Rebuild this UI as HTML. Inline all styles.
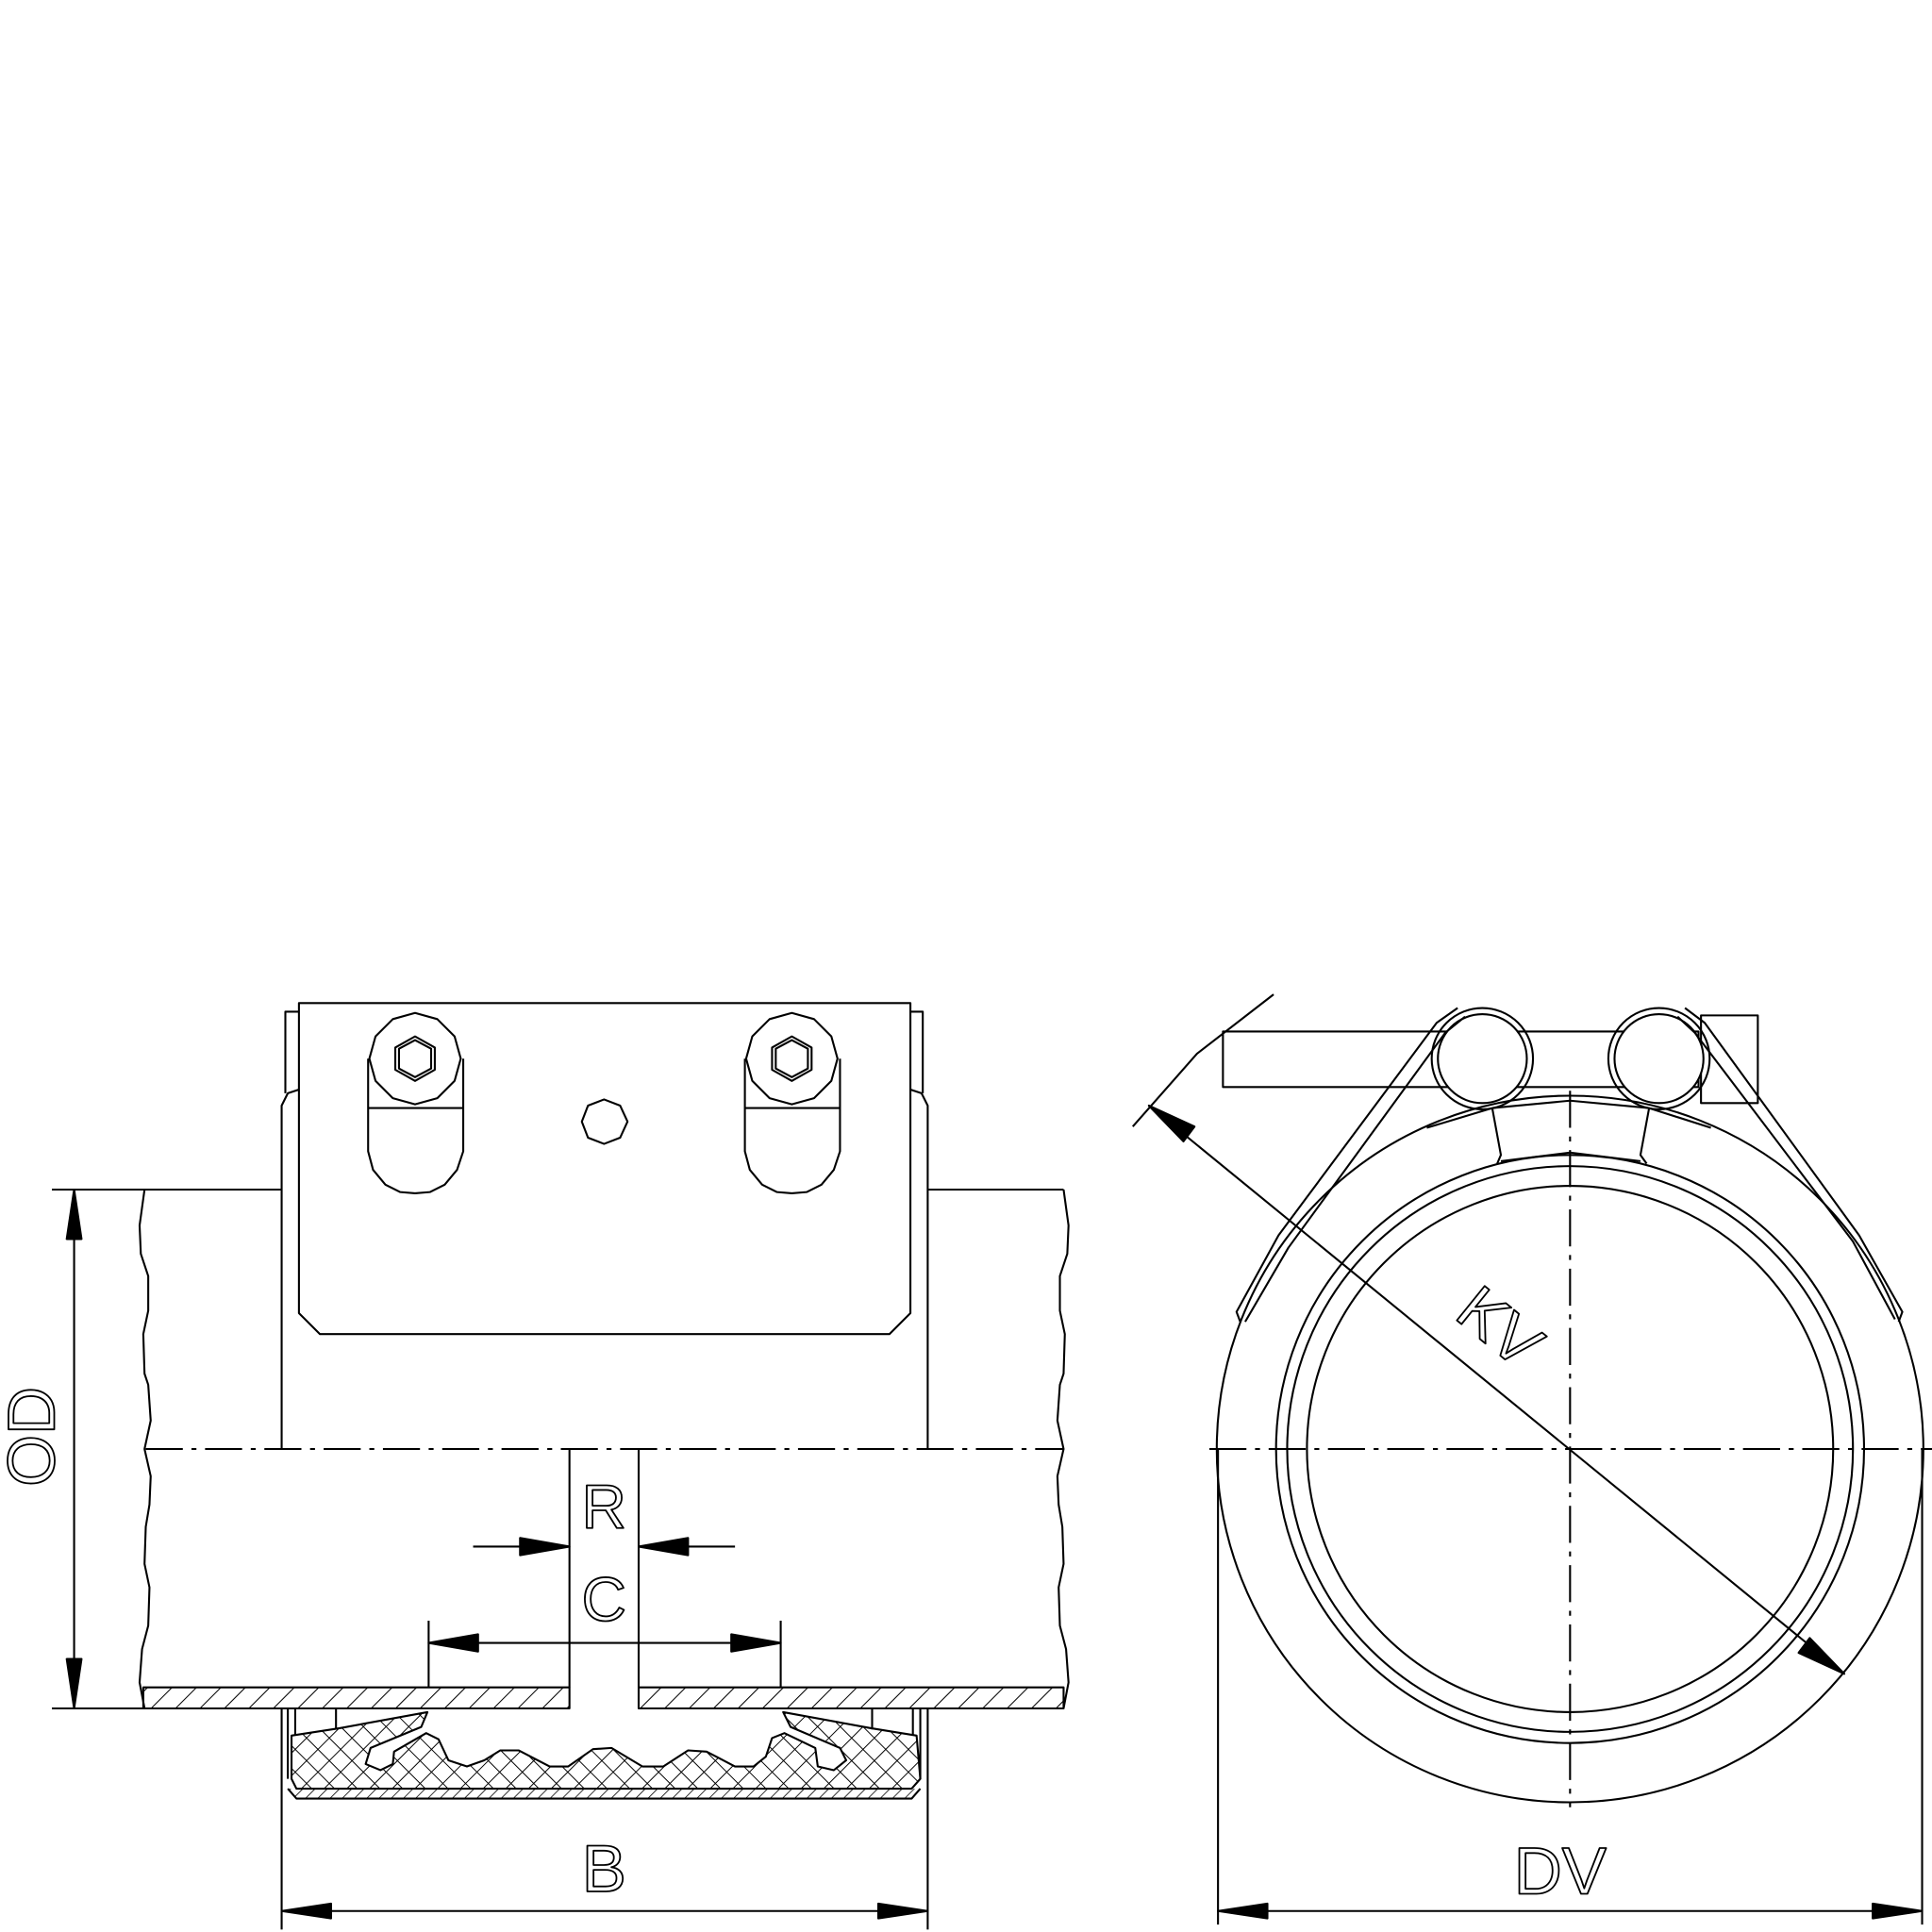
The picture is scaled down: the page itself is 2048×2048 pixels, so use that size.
<!DOCTYPE html>
<html><head><meta charset="utf-8"><style>html,body{margin:0;padding:0;background:#fff}svg{display:block}</style></head><body>
<svg width="2048" height="2048" viewBox="0 0 1564 1564" xmlns="http://www.w3.org/2000/svg" fill="none" stroke="#000" stroke-width="1.6" stroke-linejoin="round">
<defs>
<pattern id="h" width="14" height="14" patternUnits="userSpaceOnUse" patternTransform="rotate(45)"><line x1="0" y1="0" x2="0" y2="14" stroke="#000" stroke-width="1.6"/></pattern>
<pattern id="x" width="13" height="13" patternUnits="userSpaceOnUse" patternTransform="rotate(45)"><line x1="0" y1="0" x2="0" y2="13" stroke="#000" stroke-width="1.5"/><line x1="0" y1="0" x2="13" y2="0" stroke="#000" stroke-width="1.5"/></pattern>
<pattern id="h2" width="7" height="7" patternUnits="userSpaceOnUse" patternTransform="rotate(45)"><line x1="0" y1="0" x2="0" y2="7" stroke="#000" stroke-width="1.2"/></pattern>
</defs>
<g font-family="Liberation Sans, sans-serif" text-anchor="middle" fill="none" stroke="#000" stroke-width="1.4">
<text x="489" y="1531" font-size="54">B</text>
<text transform="translate(44,1163) rotate(-90)" font-size="54">OD</text>
<text x="489" y="1237" font-size="50">R</text>
<text x="489" y="1312" font-size="50">C</text>
<text x="1263" y="1533" font-size="54">DV</text>
</g>
<line x1="42" y1="963" x2="228" y2="963"/><line x1="751" y1="963" x2="861" y2="963"/>
<line x1="42" y1="1383" x2="228" y2="1383"/><line x1="751" y1="1383" x2="861" y2="1383"/>
<polyline points="117,963 113,992 114,1015 120,1033 120,1061 116,1080 117,1112 120,1121 122,1150 117,1173 122,1195 121,1218 118,1236 117,1266 121,1285 120,1316 115,1335 113,1362 117,1383"/>
<polyline points="861,963 865,992 864,1015 858,1033 858,1061 862,1080 861,1112 858,1121 856,1150 861,1173 856,1195 857,1218 860,1236 861,1266 857,1285 858,1316 863,1335 865,1362 861,1383"/>
<rect x="116" y="1366" width="345" height="17" fill="url(#h)"/>
<rect x="517" y="1366" width="344" height="17" fill="url(#h)"/>
<line x1="461" y1="1173" x2="461" y2="1366"/><line x1="517" y1="1173" x2="517" y2="1366"/>
<line x1="118" y1="1173" x2="861" y2="1173" stroke-dasharray="30,7,4,7"/>
<path d="M228,1173 V895 L233,885 L242,882"/><path d="M751,1173 V895 L746,885 L737,882"/>
<path d="M242,819 H231 V885"/><path d="M737,819 H747 V885"/>
<polygon points="242,812 737,812 737,1063 720,1080 259,1080 242,1063" fill="#fff"/>
<g id="bolt">
<polygon points="336,820 354,825 368,839 373,857 368,875 354,889 336,894 318,889 304,875 299,857 304,839 318,825"/>
<polygon points="336,839 352,848 352,866 336,875 320,866 320,848"/>
<polygon points="336,842 349,849 349,865 336,872 323,865 323,849"/>
<path d="M298,857 V932 L302,947 L312,959 L324,965 L336,966 L348,965 L360,959 L370,947 L375,932 V857"/>
<line x1="298" y1="897" x2="375" y2="897"/>
</g>
<use href="#bolt" x="305"/>
<polygon points="489,890 502,895 508,908 502,921 489,926 476,921 471,908 476,895"/>
<line x1="233" y1="1383" x2="233" y2="1440"/><line x1="239" y1="1383" x2="239" y2="1405"/>
<line x1="745" y1="1383" x2="745" y2="1440"/><line x1="739" y1="1383" x2="739" y2="1405"/>
<line x1="272" y1="1383" x2="272" y2="1400"/><line x1="706" y1="1383" x2="706" y2="1400"/>
<path d="M233,1448 L240,1456 H738 L745,1448" fill="url(#h2)"/>
<path d="M236,1405 L275,1399 L346,1386 L341,1398 L300,1415 L296,1428 L308,1433 L318,1428 L319,1418 L345,1403 L355,1408 L363,1425 L378,1430 L392,1425 L405,1417 L420,1417 L445,1430 L460,1430 L480,1416 L495,1415 L520,1430 L537,1430 L557,1417 L572,1418 L595,1430 L610,1430 L620,1422 L625,1407 L635,1403 L660,1415 L662,1430 L675,1433 L685,1425 L680,1415 L640,1398 L634,1386 L705,1399 L742,1405 L745,1440 L738,1448 L240,1448 L236,1440 Z" fill="url(#x)"/>
<line x1="228" y1="1383" x2="228" y2="1562"/><line x1="751" y1="1383" x2="751" y2="1562"/>
<line x1="228" y1="1547" x2="751" y2="1547"/>
<polygon points="228,1547 268,1541 268,1553" fill="#000"/><polygon points="751,1547 711,1541 711,1553" fill="#000"/>
<line x1="60" y1="963" x2="60" y2="1383"/>
<polygon points="60,963 54,1003 66,1003" fill="#000"/><polygon points="60,1383 54,1343 66,1343" fill="#000"/>
<line x1="383" y1="1252" x2="461" y2="1252"/><polygon points="461,1252 421,1245 421,1259" fill="#000"/>
<line x1="517" y1="1252" x2="595" y2="1252"/><polygon points="517,1252 557,1245 557,1259" fill="#000"/>
<line x1="347" y1="1312" x2="347" y2="1366"/><line x1="632" y1="1312" x2="632" y2="1366"/>
<line x1="347" y1="1330" x2="632" y2="1330"/>
<polygon points="347,1330 387,1323 387,1337" fill="#000"/><polygon points="632,1330 592,1323 592,1337" fill="#000"/>
<rect x="990" y="835" width="385" height="45"/>
<rect x="1377" y="822" width="46" height="71"/>
<circle cx="1271" cy="1173" r="286" fill="#fff"/>
<circle cx="1271" cy="1173" r="238"/>
<circle cx="1271" cy="1173" r="229"/>
<circle cx="1271" cy="1173" r="213"/>
<path d="M1208,897 L1271,891 L1335,897 M1215,940 L1271,933 L1328,940 M1208,897 L1215,935 L1212,942 M1335,897 L1328,935 L1333,942"/>
<path d="M1155,913 L1208,897 M1335,897 L1385,913"/>
<circle cx="1200" cy="857" r="36" fill="#fff"/><circle cx="1200" cy="857" r="41"/>
<circle cx="1343" cy="857" r="36" fill="#fff"/><circle cx="1343" cy="857" r="41"/>
<polyline points="1180,816 1163,828 1035,1000 1001,1062 1004,1070"/>
<polyline points="1186,823 1170,836 1043,1010 1008,1070"/>
<polyline points="1364,816 1380,828 1505,1000 1540,1062 1537,1070"/>
<polyline points="1358,823 1372,836 1500,1005 1534,1068"/>
<line x1="979" y1="1173" x2="1564" y2="1173" stroke-dasharray="30,7,4,7"/>
<line x1="1271" y1="883" x2="1271" y2="1463" stroke-dasharray="30,7,4,7"/>
<polyline points="917,912 969,853 1031,805"/>
<line x1="930" y1="895" x2="1493" y2="1355"/>
<polygon points="930,895 967,912 958,924" fill="#000"/><polygon points="1493,1355 1456,1338 1465,1326" fill="#000"/>
<line x1="986" y1="1173" x2="986" y2="1558"/><line x1="1556" y1="1173" x2="1556" y2="1558"/>
<line x1="986" y1="1547" x2="1556" y2="1547"/>
<polygon points="986,1547 1026,1541 1026,1553" fill="#000"/><polygon points="1556,1547 1516,1541 1516,1553" fill="#000"/>
<text transform="translate(1203,1088) rotate(39)" font-family="Liberation Sans, sans-serif" font-size="52" text-anchor="middle" fill="none" stroke="#000" stroke-width="1.4">KV</text>
</svg>
</body></html>
